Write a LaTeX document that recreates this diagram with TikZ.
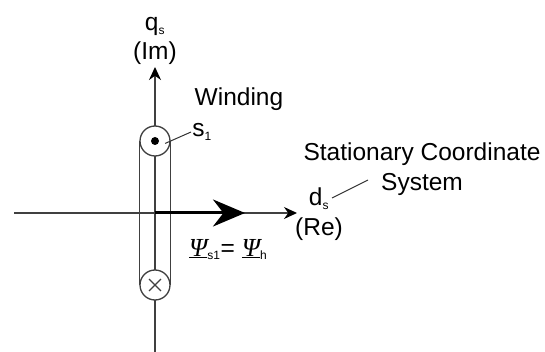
\documentclass[tikz,border=0pt]{standalone}
\usepackage{fontspec}
\setmainfont{Liberation Sans}
\newfontfamily\psifont{Liberation Serif}
\usetikzlibrary{arrows.meta,shapes.misc}
\newcommand{\fluxsym}{\underline{\smash{\psifont\itshape\fontsize{26}{26}\selectfont Ψ}}}
\newcommand{\subtxt}[1]{\textsubscript{\fontsize{12}{12}\selectfont #1}}
\tikzset{
 lbl/.style={inner sep=0pt,font=\fontsize{24.5}{29.5}\selectfont,align=center},
 wire/.style={line width=1.3pt,black!75},
 slot/.style={circle,draw,line width=1.3pt,black!75,fill=white,minimum size=30,inner sep=0pt},
 axis/.style={wire,-{Stealth[length=13,width=12,black]}},
 leader/.style={line width=1pt,black!80}
}
\begin{document}
\begin{tikzpicture}[x=1pt,y=-1pt]
\useasboundingbox (0,0) rectangle (545,352);
\coordinate (xstart) at (14,213);
\coordinate (xend) at (297,213);
\coordinate (ybottom) at (155,352);
\coordinate (ytop) at (155,67);
\coordinate (origin) at (155,213);
\coordinate (fluxtip) at (245,213);
\draw[axis] (xstart) -- (xend);
\draw[axis] (ybottom) -- (ytop);
\node[slot] (slottop) at (155,141) {};
\node[slot] (slotbot) at (155,285) {};
\draw[wire] (slottop.west) -- (slotbot.west);
\draw[wire] (slottop.east) -- (slotbot.east);
\node[circle,fill=black,minimum size=8,inner sep=0pt] (slotdot) at (slottop) {};
\node[cross out,draw,line width=1.3pt,black!75,minimum size=10.5,inner sep=0pt] (slotcross) at (slotbot) {};
\draw[line width=3pt,-{Stealth[length=32,width=27]}] (origin) -- (fluxtip);
\node[lbl] (qlabel) at (155,41) {q\subtxt{s}\\(Im)};
\node[lbl] (windlabel) at (239,99) {Winding};
\node[lbl] (slabel) at (202,132) {s\subtxt{1}};
\coordinate (sline) at (191,132);
\draw[leader,shorten <=-6pt] (slottop.east) -- (sline);
\node[lbl] (syslabel) at (422,169) {Stationary Coordinate\\System};
\node[lbl] (dlabel) at (319,214) {d\subtxt{s}\\(Re)};
\coordinate (dlinea) at (332,198);
\coordinate (dlineb) at (368,180);
\draw[leader] (dlinea) -- (dlineb);
\node[lbl,anchor=west] (fluxlabel) at (189,252) {\fluxsym\subtxt{s1}= \fluxsym\subtxt{h}};
\end{tikzpicture}
\end{document}
